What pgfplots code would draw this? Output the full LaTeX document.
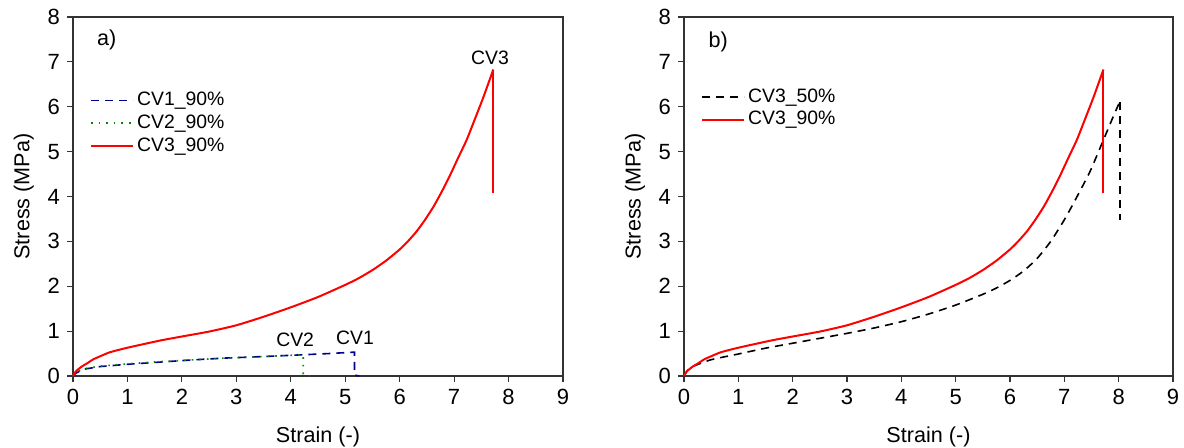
\documentclass[border=0pt]{standalone}
\usepackage{pgfplots}
\pgfplotsset{compat=1.18}
\usepackage{fontspec}
\setmainfont{Liberation Sans}
\definecolor{cvblue}{RGB}{0,0,140}
\definecolor{cvgreen}{RGB}{0,140,0}
\definecolor{cvred}{RGB}{255,0,0}
\begin{document}
\begin{tikzpicture}[x=1pt,y=1pt]
\useasboundingbox (0,0) rectangle (592,224);
\pgfplotsset{
  every axis/.append style={
    scale only axis, width=245pt, height=179.5pt,
    xmin=0, xmax=9, ymin=0, ymax=8,
    xtick={0,...,9}, ytick={0,...,8},
    tick pos=left, tick align=outside,
    major tick length=3pt,
    axis line style={line width=0.6pt, black!80},
    every tick/.style={line width=0.6pt, black!80},
    /pgf/number format/assume math mode=true,
    tick label style={font=\fontsize{11}{13}\selectfont},
    label style={font=\fontsize{10.8}{13}\selectfont},
    xlabel={Strain (-)}, ylabel={Stress (MPa)},
    xlabel style={yshift=-4pt},
    legend style={draw=none, fill=none, font=\fontsize{9.7}{11.2}\selectfont,
      anchor=north west, row sep=0pt, inner sep=1pt,
      nodes={inner sep=1.5pt}},
    legend cell align=left,
    legend image code/.code={\draw[##1] (0pt,0pt) -- (21pt,0pt);},
    clip=false,
  }
}
\pgfplotstableread{
x y
0 0
0.05 0.1
0.16 0.21
0.27 0.29
0.37 0.37
0.5 0.44
0.68 0.53
1 0.63
1.6 0.79
2 0.88
2.5 0.99
3 1.13
3.5 1.32
4 1.53
4.5 1.76
5 2.03
5.25 2.18
5.5 2.36
5.75 2.57
6 2.82
6.15 3.0
6.31 3.22
6.46 3.47
6.62 3.77
6.77 4.1
6.92 4.46
7.07 4.85
7.23 5.26
7.38 5.72
7.54 6.22
7.72 6.83
}\redcurve
\pgfplotstableread{
x y
0 0
0.05 0.1
0.14 0.2
0.49 0.36
1 0.49
1.5 0.62
2 0.73
2.5 0.84
3 0.95
3.5 1.07
4 1.21
4.5 1.38
5 1.58
5.5 1.82
5.75 1.96
6 2.13
6.25 2.34
6.5 2.62
6.75 3.0
7 3.48
7.2 3.92
7.47 4.55
7.72 5.26
7.9 5.78
8.02 6.11
}\blackcurve
\begin{axis}[at={(36.5pt,36pt)}, anchor=south west,
  legend style={at={(rel axis cs:0.03,0.805)}}]
\addplot[cvblue, line width=0.8pt, dash pattern=on 4pt off 3pt] coordinates {
(0,0) (0.05,0.06) (0.19,0.15) (0.5,0.21) (0.99,0.26) (1.6,0.31) (2.21,0.36) (2.8,0.40) (3.43,0.43) (4.17,0.47) (4.7,0.50) (5.15,0.53) (5.17,0.53) (5.17,0.02) (5.26,0)};
\addlegendentry{CV1\_90\%}
\addplot[cvgreen, line width=0.8pt, dash pattern=on 0.8pt off 3pt] coordinates {
(0,0) (0.05,0.07) (0.19,0.16) (0.5,0.22) (0.99,0.27) (1.6,0.32) (2.21,0.36) (2.8,0.40) (3.43,0.43) (4.17,0.47) (4.23,0.47) (4.23,0.05) (4.35,0)};
\addlegendentry{CV2\_90\%}
\addplot[cvred, line width=1pt, smooth, tension=0.35] table {\redcurve};
\addlegendentry{CV3\_90\%}
\addplot[cvred, line width=1pt, forget plot] coordinates {(7.72,6.83) (7.72,4.07)};
\node[font=\fontsize{10.8}{13}\selectfont] at (axis cs:0.62,7.49) {a)};
\node[font=\fontsize{9.7}{11}\selectfont] at (axis cs:7.66,7.1) {CV3};
\node[font=\fontsize{9.7}{11}\selectfont] at (axis cs:4.08,0.8) {CV2};
\node[font=\fontsize{9.7}{11}\selectfont] at (axis cs:5.18,0.85) {CV1};
\end{axis}
\begin{axis}[at={(342pt,36pt)}, anchor=south west, width=244.5pt,
  legend style={at={(rel axis cs:0.03,0.815)}}]
\addplot[black, line width=0.8pt, dash pattern=on 4pt off 3pt, smooth, tension=0.35] table {\blackcurve};
\addlegendentry{CV3\_50\%}
\addplot[black, line width=0.8pt, dash pattern=on 4pt off 3pt, forget plot] coordinates {(8.03,6.11) (8.03,3.47)};
\addplot[cvred, line width=1pt, smooth, tension=0.35] table {\redcurve};
\addlegendentry{CV3\_90\%}
\addplot[cvred, line width=1pt, forget plot] coordinates {(7.72,6.83) (7.72,4.07)};
\node[font=\fontsize{10.8}{13}\selectfont] at (axis cs:0.63,7.44) {b)};
\end{axis}
\end{tikzpicture}
\end{document}
